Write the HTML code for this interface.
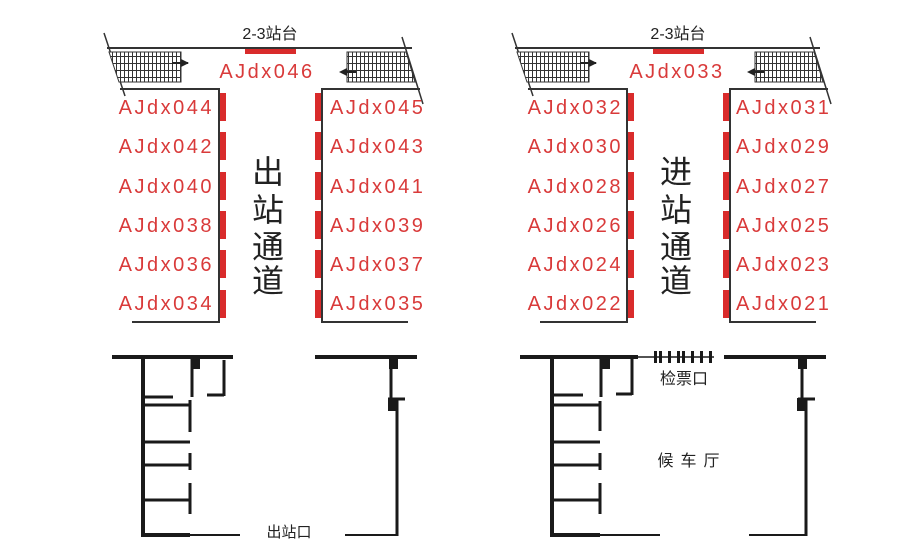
<!DOCTYPE html>
<html><head><meta charset="utf-8"><style>
html,body{margin:0;padding:0;background:#fff;}
svg{display:block;}
.lbl{font-family:"Liberation Sans","Noto Sans CJK SC",sans-serif;font-size:20px;fill:#d93a3a;letter-spacing:2.5px;}
.cn{font-family:"Liberation Sans","Noto Sans CJK SC",sans-serif;fill:#222;}
</style></head><body>
<svg width="900" height="555" viewBox="0 0 900 555" xmlns="http://www.w3.org/2000/svg">
<defs>
<pattern id="grid" width="4" height="7" patternUnits="userSpaceOnUse">
<rect width="4" height="7" fill="#fff"/>
<line x1="0.5" y1="0" x2="0.5" y2="7" stroke="#333" stroke-width="1"/>
<line x1="0" y1="0.5" x2="4" y2="0.5" stroke="#333" stroke-width="1"/>
</pattern>
<g id="top">
<text x="270" y="39" text-anchor="middle" class="cn" font-size="16">2-3站台</text>
<line x1="107" y1="48" x2="412" y2="48" stroke="#333" stroke-width="2"/>
<line x1="104" y1="33" x2="125" y2="96" stroke="#333" stroke-width="1.5"/>
<line x1="402" y1="37" x2="423" y2="104" stroke="#333" stroke-width="1.5"/>
<rect x="245" y="49" width="51" height="5" fill="#d92b2b"/>
<polygon points="109,52 181,52 181,82 119,82" fill="url(#grid)" stroke="#333" stroke-width="1"/>
<line x1="172" y1="63" x2="188" y2="63" stroke="#222" stroke-width="2"/>
<polygon points="189,63 181,59 181,67" fill="#222"/>
<polygon points="347,52 406,52 415,82 347,82" fill="url(#grid)" stroke="#333" stroke-width="1"/>
<line x1="342" y1="72" x2="356" y2="72" stroke="#222" stroke-width="2"/>
<polygon points="339,72 347,68 347,76" fill="#222"/>
<polyline points="120,89 219,89 219,322 132,322" fill="none" stroke="#333" stroke-width="2"/>
<polyline points="420,89 322,89 322,322 408,322" fill="none" stroke="#333" stroke-width="2"/>
<g fill="#d92b2b">
<rect x="220" y="93" width="6" height="28"/><rect x="220" y="132" width="6" height="28"/><rect x="220" y="172" width="6" height="28"/><rect x="220" y="211" width="6" height="28"/><rect x="220" y="250" width="6" height="28"/><rect x="220" y="290" width="6" height="28"/>
<rect x="315" y="93" width="6" height="28"/><rect x="315" y="132" width="6" height="28"/><rect x="315" y="172" width="6" height="28"/><rect x="315" y="211" width="6" height="28"/><rect x="315" y="250" width="6" height="28"/><rect x="315" y="290" width="6" height="28"/>
</g>
</g>
</defs>

<!-- LEFT TOP -->
<use href="#top"/>
<text x="267" y="78" text-anchor="middle" class="lbl">AJdx046</text>
<g class="lbl" text-anchor="end">
<text x="214" y="114">AJdx044</text><text x="214" y="153">AJdx042</text><text x="214" y="193">AJdx040</text><text x="214" y="232">AJdx038</text><text x="214" y="271">AJdx036</text><text x="214" y="310">AJdx034</text>
</g>
<g class="lbl">
<text x="330" y="114">AJdx045</text><text x="330" y="153">AJdx043</text><text x="330" y="193">AJdx041</text><text x="330" y="232">AJdx039</text><text x="330" y="271">AJdx037</text><text x="330" y="310">AJdx035</text>
</g>
<g class="cn" font-size="32" text-anchor="middle">
<text x="268" y="183">出</text><text x="268" y="221">站</text><text x="268" y="258">通</text><text x="268" y="292">道</text>
</g>

<!-- RIGHT TOP -->
<g transform="translate(408,0)"><use href="#top"/></g>
<text x="677" y="78" text-anchor="middle" class="lbl">AJdx033</text>
<g class="lbl" text-anchor="end">
<text x="623" y="114">AJdx032</text><text x="623" y="153">AJdx030</text><text x="623" y="193">AJdx028</text><text x="623" y="232">AJdx026</text><text x="623" y="271">AJdx024</text><text x="623" y="310">AJdx022</text>
</g>
<g class="lbl">
<text x="736" y="114">AJdx031</text><text x="736" y="153">AJdx029</text><text x="736" y="193">AJdx027</text><text x="736" y="232">AJdx025</text><text x="736" y="271">AJdx023</text><text x="736" y="310">AJdx021</text>
</g>
<g class="cn" font-size="32" text-anchor="middle">
<text x="676" y="183">进</text><text x="676" y="221">站</text><text x="676" y="258">通</text><text x="676" y="292">道</text>
</g>

<!-- BOTTOM LEFT -->
<g stroke="#1a1a1a" fill="none">
<line x1="112" y1="357" x2="233" y2="357" stroke-width="4"/>
<line x1="143" y1="357" x2="143" y2="537" stroke-width="4"/>
<line x1="143" y1="535" x2="190" y2="535" stroke-width="4"/>
<line x1="190" y1="535" x2="240" y2="535" stroke-width="2"/>
<line x1="143" y1="397" x2="173" y2="397" stroke-width="3"/>
<line x1="143" y1="405" x2="190" y2="405" stroke-width="3"/>
<line x1="190" y1="400" x2="190" y2="432" stroke-width="3"/>
<line x1="143" y1="442" x2="190" y2="442" stroke-width="3"/>
<line x1="143" y1="465" x2="190" y2="465" stroke-width="3"/>
<line x1="190" y1="453" x2="190" y2="470" stroke-width="3"/>
<line x1="143" y1="500" x2="190" y2="500" stroke-width="3"/>
<line x1="190" y1="483" x2="190" y2="514" stroke-width="3"/>
<line x1="192" y1="357" x2="192" y2="397" stroke-width="3"/>
<line x1="224" y1="360" x2="224" y2="396" stroke-width="3"/>
<line x1="207" y1="395" x2="224" y2="395" stroke-width="3"/>
<line x1="315" y1="357" x2="417" y2="357" stroke-width="4"/>
<line x1="391" y1="357" x2="391" y2="400" stroke-width="3"/>
<line x1="388" y1="399" x2="405" y2="399" stroke-width="3"/>
<line x1="397" y1="400" x2="397" y2="536" stroke-width="3"/>
<line x1="345" y1="535" x2="397" y2="535" stroke-width="2"/>
</g>
<rect x="192" y="357" width="8" height="12" fill="#1a1a1a"/>
<rect x="389" y="357" width="9" height="12" fill="#1a1a1a"/>
<rect x="388" y="398" width="9" height="13" fill="#1a1a1a"/>
<text x="289" y="537" text-anchor="middle" class="cn" font-size="15">出站口</text>

<!-- BOTTOM RIGHT -->
<g stroke="#1a1a1a" fill="none">
<line x1="520" y1="357" x2="638" y2="357" stroke-width="4"/>
<line x1="638" y1="357" x2="714" y2="357" stroke-width="1.5"/>
<line x1="724" y1="357" x2="826" y2="357" stroke-width="4"/>
<line x1="552" y1="357" x2="552" y2="537" stroke-width="4"/>
<line x1="552" y1="535" x2="600" y2="535" stroke-width="4"/>
<line x1="600" y1="535" x2="660" y2="535" stroke-width="2"/>
<line x1="552" y1="395" x2="583" y2="395" stroke-width="3"/>
<line x1="552" y1="405" x2="600" y2="405" stroke-width="3"/>
<line x1="600" y1="401" x2="600" y2="431" stroke-width="3"/>
<line x1="552" y1="442" x2="600" y2="442" stroke-width="3"/>
<line x1="552" y1="465" x2="600" y2="465" stroke-width="3"/>
<line x1="600" y1="453" x2="600" y2="470" stroke-width="3"/>
<line x1="552" y1="500" x2="600" y2="500" stroke-width="3"/>
<line x1="600" y1="483" x2="600" y2="514" stroke-width="3"/>
<line x1="601" y1="357" x2="601" y2="397" stroke-width="3"/>
<line x1="632" y1="359" x2="632" y2="395" stroke-width="3"/>
<line x1="616" y1="394" x2="632" y2="394" stroke-width="3"/>
<line x1="802" y1="357" x2="802" y2="400" stroke-width="3"/>
<line x1="798" y1="399" x2="815" y2="399" stroke-width="3"/>
<line x1="806" y1="400" x2="806" y2="536" stroke-width="3"/>
<line x1="749" y1="535" x2="806" y2="535" stroke-width="2"/>
</g>
<g fill="#1a1a1a">
<rect x="654" y="351" width="3" height="12"/><rect x="659" y="351" width="3" height="12"/>
<rect x="668" y="351" width="3" height="12"/><rect x="677" y="351" width="3" height="12"/><rect x="682" y="351" width="3" height="12"/>
<rect x="691" y="351" width="3" height="12"/><rect x="700" y="351" width="3" height="12"/><rect x="709" y="351" width="3" height="12"/>
<rect x="601" y="357" width="9" height="12"/>
<rect x="798" y="357" width="9" height="12"/>
<rect x="797" y="398" width="9" height="13"/>
</g>
<text x="684" y="384" text-anchor="middle" class="cn" font-size="16">检票口</text>
<text x="692" y="466" text-anchor="middle" class="cn" font-size="16" letter-spacing="7">候车厅</text>
</svg>
</body></html>
